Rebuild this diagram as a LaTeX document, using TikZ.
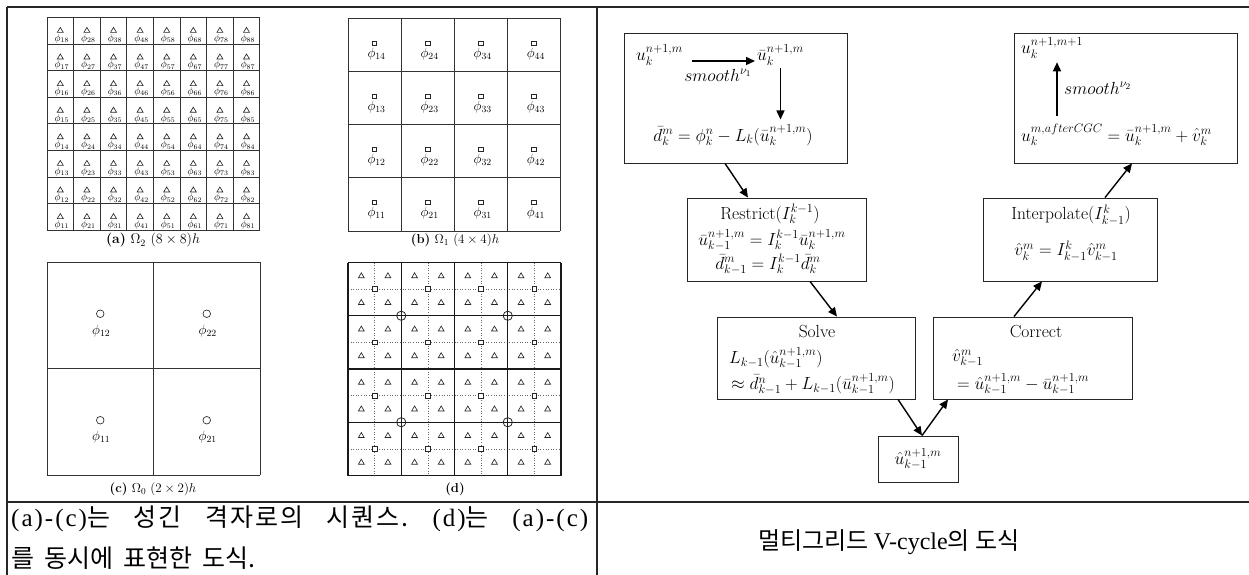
\RequirePackage{fix-cm}
\documentclass[tikz,border=0pt]{standalone}
\usepackage{fontspec}
\newfontfamily\kr{Noto Sans CJK KR}
\newfontfamily\lat{Liberation Serif}
\usetikzlibrary{calc,arrows.meta}
\tikzset{
 tblline/.style={line width=1.4pt, black!85},
 gridline/.style={line width=0.8pt, black!80},
 thickgrid/.style={line width=1.1pt, black!90},
 dotline/.style={line width=0.6pt, black!60, dotted},
 mk/.style={line width=0.65pt, black!85},
 lbla/.style={font=\fontsize{10}{12}\selectfont, inner sep=0pt},
 lblb/.style={font=\fontsize{13.5}{16}\selectfont, inner sep=0pt},
 capf/.style={font=\fontsize{13}{16}\selectfont, inner sep=0pt},
 bx/.style={draw=black!85, line width=0.9pt, inner sep=0pt},
 mth/.style={font=\fontsize{17.5}{21}\selectfont, inner sep=0pt},
 arr/.style={line width=1.4pt, -{Triangle[length=9pt,width=8pt]}},
 krs/.style={font=\kr\fontsize{25}{30}\selectfont, inner sep=0pt},
 krc/.style={font=\kr\fontsize{24}{28}\selectfont, inner sep=0pt},
}
\newcommand{\lt}[1]{{\lat\fontsize{25}{30}\selectfont #1}}
\newcommand{\ltsp}[1]{{\lat\fontsize{25}{30}\selectfont\addfontfeature{LetterSpace=8}#1}}
\newcommand{\ltc}[1]{{\lat\fontsize{24}{28}\selectfont #1}}
\begin{document}
\begin{tikzpicture}[x=1pt,y=-1pt]
\useasboundingbox (0,0) rectangle (1249,575);
% table lines
\draw[tblline] (7,7) -- (1249,7);
\draw[tblline] (7,7) -- (7,575);
\draw[tblline] (597,7) -- (597,575);
\draw[tblline] (7,502) -- (1249,502);

% ---------- (a) 8x8 ----------
\foreach \k in {0,...,8}{
  \pgfmathsetmacro\p{47+26.6*\k}
  \pgfmathsetmacro\q{17.5+26.6*\k}
  \draw[gridline] (\p,17.5) -- (\p,230.3);
  \draw[gridline] (47,\q) -- (259.8,\q);
}
\foreach \i in {1,...,8}{
 \foreach \j in {1,...,8}{
  \pgfmathsetmacro\cx{47+26.6*(\i-0.5)}
  \pgfmathsetmacro\cy{17.5+26.6*(8.5-\j)}
  \draw[mk] (\cx-3,\cy+1.6) -- (\cx+3,\cy+1.6) -- (\cx,\cy-3.4) -- cycle;
  \node[lbla, anchor=north] (a\i\j) at (\cx+1.5,\cy+3.3) {$\phi_{\i\j}$};
 }
}
\node[font=\fontsize{14}{16}\selectfont, inner sep=0pt] (capa) at (153,240.5) {\textbf{(a)} $\Omega_2$ $(8\times8)h$};

% ---------- (b) 4x4 ----------
\foreach \k in {0,...,4}{
  \pgfmathsetmacro\p{348+53.1*\k}
  \pgfmathsetmacro\q{18.5+53.1*\k}
  \draw[gridline] (\p,18.5) -- (\p,230.9);
  \draw[gridline] (348,\q) -- (560.4,\q);
}
\foreach \i in {1,...,4}{
 \foreach \j in {1,...,4}{
  \pgfmathsetmacro\cx{348+53.1*(\i-0.5)}
  \pgfmathsetmacro\cy{18.5+53.1*(4.5-\j)}
  \draw[mk] (\cx-2.2,\cy-4.2) rectangle (\cx+2.2,\cy+0.2);
  \node[lblb, anchor=north] (b\i\j) at (\cx+2,\cy+2.7) {$\phi_{\i\j}$};
 }
}
\node[capf] (capb) at (455,240) {\textbf{(b)} $\Omega_1$ $(4\times4)h$};

% ---------- (c) 2x2 ----------
\foreach \k in {0,...,2}{
  \pgfmathsetmacro\p{47+106.5*\k}
  \pgfmathsetmacro\q{262+106.5*\k}
  \draw[gridline] (\p,262) -- (\p,475);
  \draw[gridline] (47,\q) -- (260,\q);
}
\foreach \i in {1,2}{
 \foreach \j in {1,2}{
  \pgfmathsetmacro\cx{47+106.5*(\i-0.5)}
  \pgfmathsetmacro\cy{262+106.5*(2.5-\j)}
  \draw[mk] (\cx,\cy-1.5) circle[radius=3.8];
  \node[lblb, anchor=north] (c\i\j) at (\cx+1,\cy+9.5) {$\phi_{\i\j}$};
 }
}
\node[capf] (capc) at (153,489) {\textbf{(c)} $\Omega_0$ $(2\times2)h$};

% ---------- (d) combined ----------
\foreach \k in {0,...,3}{
  \pgfmathsetmacro\p{348+26.625*(2*\k+1)}
  \pgfmathsetmacro\q{262.5+26.625*(2*\k+1)}
  \draw[dotline] (\p,262.5) -- (\p,475.5);
  \draw[dotline] (348,\q) -- (561,\q);
}
\foreach \k in {0,...,4}{
  \pgfmathsetmacro\p{348+53.25*\k}
  \pgfmathsetmacro\q{262.5+53.25*\k}
  \draw[thickgrid] (\p,262.5) -- (\p,475.5);
  \draw[thickgrid] (348,\q) -- (561,\q);
}
\foreach \i in {0,...,7}{
 \foreach \j in {0,...,7}{
  \pgfmathsetmacro\cx{348+26.625*(\i+0.5)}
  \pgfmathsetmacro\cy{262.5+26.625*(\j+0.5)}
  \draw[mk] (\cx-2.9,\cy+2) -- (\cx+2.9,\cy+2) -- (\cx,\cy-3) -- cycle;
 }
}
\foreach \i in {0,...,3}{
 \foreach \j in {0,...,3}{
  \pgfmathsetmacro\cx{348+53.25*(\i+0.5)}
  \pgfmathsetmacro\cy{262.5+53.25*(\j+0.5)}
  \draw[mk, fill=white] (\cx-2.4,\cy-2.4) rectangle (\cx+2.4,\cy+2.4);
 }
}
\foreach \i in {0,1}{
 \foreach \j in {0,1}{
  \pgfmathsetmacro\cx{348+106.5*(\i+0.5)}
  \pgfmathsetmacro\cy{262.5+106.5*(\j+0.5)}
  \draw[mk, line width=0.8pt] (\cx,\cy) circle[radius=4.6];
 }
}
\node[capf] (capd) at (455,489) {\textbf{(d)}};

% ---------- V-cycle ----------
\node[bx, minimum width=223pt, minimum height=130pt] (B1) at (735.5,98) {};
\node[mth, anchor=base west] (u1) at (636,61) {$u_k^{n+1,m}$};
\node[mth, anchor=base west] (ub1) at (757,61) {$\bar u_k^{n+1,m}$};
\draw[arr] ([xshift=9pt]u1.base east) -- ([xshift=-2pt]ub1.base west);
\node[mth] (s1) at (718,75) {$smooth^{\nu_1}$};
\node[mth, anchor=base] (d1) at (733,141) {$\bar d_k^m = \phi_k^n - L_k(\bar u_k^{n+1,m})$};
\draw[arr] ($(ub1.south)+(0,3)$) -- ($(ub1.south |- d1.north)+(0,-5)$);

\node[bx, minimum width=223pt, minimum height=130pt] (B4) at (1125.5,98) {};
\node[mth, anchor=base west] (u4) at (1021,54) {$u_k^{n+1,m+1}$};
\node[mth, anchor=base west] (e4) at (1021,141) {$u_k^{m,afterCGC} = \bar u_k^{n+1,m} + \hat v_k^m$};
\coordinate (s4) at ($(u4.base west)+(36,0)$);
\draw[arr] ($(s4 |- e4.north)+(0,-8)$) -- ($(s4 |- u4.south)+(0,4)$);
\node[mth, anchor=west] (s4l) at (1064,88) {$smooth^{\nu_2}$};

\node[bx, minimum width=179pt, minimum height=83pt] (R) at (776.5,239.5) {};
\node[mth] (Rt) at (770,214) {Restrict$(I_k^{k-1})$};
\node[mth] (R2) at (772,240) {$\bar u_{k-1}^{n+1,m} = I_k^{k-1}\bar u_k^{n+1,m}$};
\node[mth] (R3) at (768,264) {$\bar d_{k-1}^m = I_k^{k-1}\bar d_k^m$};

\node[bx, minimum width=198pt, minimum height=82pt] (S) at (816,358) {};
\node[mth] (St) at (817,332) {Solve};
\node[mth, anchor=west] (S2) at (729,358) {$L_{k-1}(\hat u_{k-1}^{n+1,m})$};
\node[mth, anchor=west] (S3) at (731,384) {$\approx \bar d_{k-1}^n + L_{k-1}(\bar u_{k-1}^{n+1,m})$};

\node[bx, minimum width=80pt, minimum height=46pt] (H) at (918,459) {};
\node[mth] (Ht) at (918,459) {$\hat u_{k-1}^{n+1,m}$};

\node[bx, minimum width=199pt, minimum height=82pt] (C) at (1032.5,358) {};
\node[mth] (Ct) at (1036,332) {Correct};
\node[mth, anchor=west] (C2) at (952,358) {$\hat v_{k-1}^m$};
\node[mth, anchor=west] (C3) at (957,384) {$= \hat u_{k-1}^{n+1,m} - \bar u_{k-1}^{n+1,m}$};

\node[bx, minimum width=174pt, minimum height=83pt] (I) at (1070,239.5) {};
\node[mth] (It) at (1071,215) {Interpolate$(I_{k-1}^k)$};
\node[mth] (I2) at (1066,251) {$\hat v_k^m = I_{k-1}^k\hat v_{k-1}^m$};

\draw[arr] ([xshift=-10.5pt]B1.south) -- ([xshift=-28.5pt]R.north);
\draw[arr] ([xshift=33.5pt]R.south) -- ([xshift=21pt]S.north);
\draw[arr] ([xshift=82pt]S.south) -- ([xshift=4pt]H.north);
\draw[arr] ([xshift=4pt]H.north) -- ([xshift=-84.5pt]C.south);
\draw[arr] ([xshift=-18.5pt]C.north) -- ([xshift=-28pt]I.south);
\draw[arr] ([xshift=35pt]I.north) -- ([xshift=6.5pt]B4.south);

% ---------- captions ----------
\node[krs, anchor=west] (k1) at (11,518.5) {\frenchspacing\makebox[577pt][s]{\addfontfeature{LetterSpace=8}\ltsp{(a)-(c)}는 성긴 격자로의 시퀀스. \ltsp{(d)}는 \ltsp{(a)-(c)}}};
\node[krs, anchor=west] (k2) at (11,558.5) {\frenchspacing\makebox[244pt][s]{를 동시에 표현한 도식.}};
\node[krc, anchor=west] (k3) at (758,542) {멀티그리드 \ltc{V-cycle}의 도식};
\end{tikzpicture}
\end{document}
